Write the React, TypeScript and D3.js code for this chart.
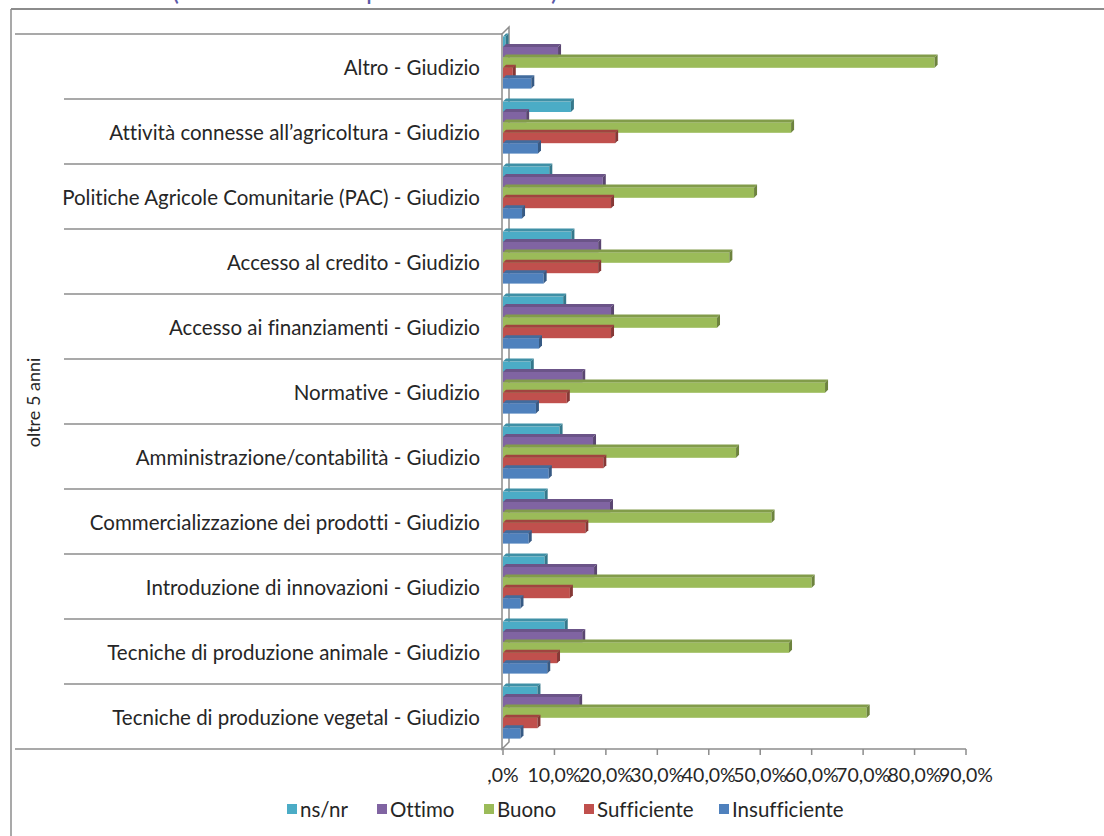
import React from "react";
import * as d3 from "d3";

const categories = [
  "Altro - Giudizio",
  "Attività connesse all’agricoltura - Giudizio",
  "Politiche Agricole Comunitarie (PAC) - Giudizio",
  "Accesso al credito - Giudizio",
  "Accesso ai finanziamenti - Giudizio",
  "Normative - Giudizio",
  "Amministrazione/contabilità - Giudizio",
  "Commercializzazione dei prodotti - Giudizio",
  "Introduzione di innovazioni - Giudizio",
  "Tecniche di produzione animale - Giudizio",
  "Tecniche di produzione vegetal - Giudizio",
];

const seriesNames = ["ns/nr", "Ottimo", "Buono", "Sufficiente", "Insufficiente"];
const seriesColors = ["#4BACC6", "#8064A2", "#9BBB59", "#C0504D", "#4F81BD"];

const nsnr = [0.5, 13.2, 9, 13.3, 11.7, 5.4, 11, 8.1, 8.1, 12, 6.7];
const ottimo = [10.7, 4.5, 19.4, 18.5, 21, 15.4, 17.5, 20.8, 17.7, 15.4, 14.8];
const buono = [83.9, 56, 48.8, 44, 41.6, 62.6, 45.3, 52.2, 60, 55.6, 70.7];
const sufficiente = [1.9, 21.8, 21, 18.5, 21, 12.4, 19.5, 16, 13, 10.5, 6.7];
const insufficiente = [5.5, 6.8, 3.7, 7.9, 7, 6.4, 8.9, 5, 3.4, 8.6, 3.4];

const tickValues = [0, 10, 20, 30, 40, 50, 60, 70, 80, 90];
const tickLabels = [",0%", "10,0%", "20,0%", "30,0%", "40,0%", "50,0%", "60,0%", "70,0%", "80,0%", "90,0%"];

const outerLabel = "oltre 5 anni";

const W = 1104;
const H = 836;
const FONT = "Lato, 'Open Sans', sans-serif";
const AXIS_GREY = "#8c8c8c";

export default function App() {
  const seriesData = [nsnr, ottimo, buono, sufficiente, insufficiente];
  const x0 = 503;
  const x = d3.scaleLinear().domain([0, 90]).range([x0, 966]);
  const yTop = 34;
  const yBottom = 749;
  const y = d3.scaleBand<string>().domain(categories).range([yTop, yBottom]);
  const bw = y.bandwidth();
  const sub = d3
    .scaleBand<string>()
    .domain(seriesNames)
    .range([bw * 0.04, bw * 0.84]);
  const bh = sub.bandwidth();
  const d = 3;
  const wallD = 7;

  const boundaries = categories.map((c) => y(c) as number).concat([yBottom]);

  return (
    <svg
      width={W}
      height={H}
      style={{ position: "absolute", left: 0, top: 0, background: "#fff", fontVariantLigatures: "none" }}
      fontFamily={FONT}
    >
      <rect x={0} y={0} width={W} height={H} fill="#fff" />
      {/* cut title fragments */}
      <g fill="#5b5ba8" fontSize={26}>
        <text x={172} y={0}>(</text>
        <text x={366} y={-1}>p</text>
        <text x={551} y={0}>)</text>
      </g>
      {/* chart frame */}
      <line x1={11} y1={9} x2={W} y2={9} stroke={AXIS_GREY} strokeWidth={2} />
      <line x1={11} y1={9} x2={11} y2={H} stroke={AXIS_GREY} strokeWidth={1.5} />

      {/* side wall */}
      <path
        d={`M${x0 - 1},${yTop} L${x0 - 1 + wallD},${yTop - wallD} L${x0 - 1 + wallD},${yBottom - wallD} L${x0 - 1},${yBottom} Z`}
        fill="#fff"
        stroke={AXIS_GREY}
        strokeWidth={1.5}
      />

      {/* category separators */}
      {boundaries.map((b, i) => (
        <line
          key={"sep" + i}
          x1={i === 0 || i === boundaries.length - 1 ? 15 : 64}
          x2={x0 - 1}
          y1={b}
          y2={b}
          stroke={AXIS_GREY}
          strokeWidth={1.5}
        />
      ))}

      {/* category labels */}
      {categories.map((c) => (
        <text
          key={c}
          x={480}
          y={(y(c) as number) + bw / 2}
          textAnchor="end"
          dominantBaseline="central"
          fontSize={20.5}
          fill="#262626"
        >
          {c}
        </text>
      ))}

      <text
        transform={`translate(33,${(yTop + yBottom) / 2 + 11}) rotate(-90)`}
        textAnchor="middle"
        dominantBaseline="central"
        fontSize={18}
        fill="#262626"
      >
        {outerLabel}
      </text>

      {/* bars */}
      {categories.map((c, ci) => (
        <g key={"g" + ci}>
          {seriesNames.map((s, si) => {
            const v = seriesData[si][ci];
            const by = (y(c) as number) + (sub(s) as number);
            const bx0 = x(0);
            const bx1 = x(v);
            const col = d3.color(seriesColors[si])!;
            const topCol = col.darker(0.5).formatHex();
            const sideCol = col.darker(1.0).formatHex();
            return (
              <g key={s}>
                <rect x={bx0} y={by} width={Math.max(0, bx1 - bx0)} height={bh} fill={seriesColors[si]} />
                <path
                  d={`M${bx0},${by} L${bx0 + d},${by - d} L${bx1 + d},${by - d} L${bx1},${by} Z`}
                  fill={topCol}
                />
                <path
                  d={`M${bx1},${by} L${bx1 + d},${by - d} L${bx1 + d},${by + bh - d} L${bx1},${by + bh} Z`}
                  fill={sideCol}
                />
              </g>
            );
          })}
        </g>
      ))}

      {/* x axis */}
      <line x1={x0 - 1} x2={x(90)} y1={yBottom} y2={yBottom} stroke={AXIS_GREY} strokeWidth={1.5} />
      {tickValues.map((t, i) => (
        <g key={"t" + t}>
          <line x1={x(t)} x2={x(t)} y1={yBottom} y2={yBottom + 6} stroke={AXIS_GREY} strokeWidth={1.5} />
          <text x={x(t)} y={782} textAnchor="middle" fontSize={19.5} fill="#262626">
            {tickLabels[i]}
          </text>
        </g>
      ))}

      {/* legend */}
      {seriesNames.map((s, i) => {
        const lx = [287, 377, 484, 584, 719][i];
        return (
          <g key={"l" + s}>
            <rect x={lx} y={804} width={10} height={10} fill={seriesColors[i]} />
            <text x={lx + 13} y={817} fontSize={20.5} fill="#262626">
              {s}
            </text>
          </g>
        );
      })}
    </svg>
  );
}
